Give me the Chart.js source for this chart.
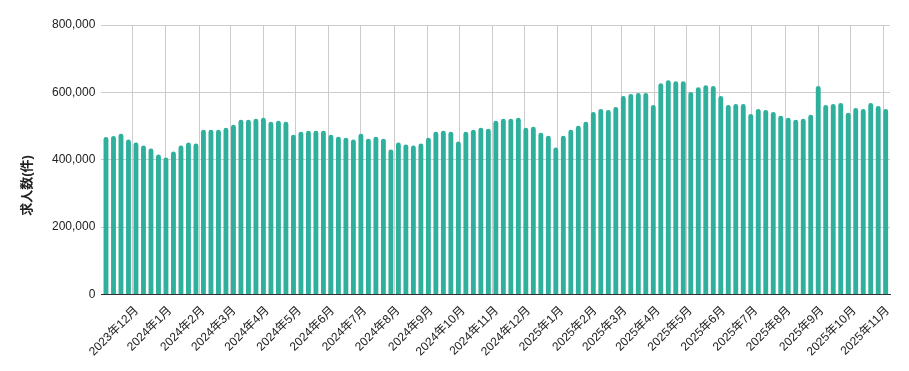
<!DOCTYPE html>
<html>
<head>
<meta charset="utf-8">
<script src="https://cdn.jsdelivr.net/npm/chart.js@4"></script>
<style>
  body { margin: 0; background: #fff; }
</style>
</head>
<body>
<canvas id="chart" width="909" height="371"></canvas>
<script>
// weekly data (week start dates)
var weeks = [
  '2023-11-06', '2023-11-13', '2023-11-20', '2023-11-27', '2023-12-04', '2023-12-11', '2023-12-18', '2023-12-25',
  '2024-01-01', '2024-01-08', '2024-01-15', '2024-01-22', '2024-01-29', '2024-02-05', '2024-02-12', '2024-02-19',
  '2024-02-26', '2024-03-04', '2024-03-11', '2024-03-18', '2024-03-25', '2024-04-01', '2024-04-08', '2024-04-15',
  '2024-04-22', '2024-04-29', '2024-05-06', '2024-05-13', '2024-05-20', '2024-05-27', '2024-06-03', '2024-06-10',
  '2024-06-17', '2024-06-24', '2024-07-01', '2024-07-08', '2024-07-15', '2024-07-22', '2024-07-29', '2024-08-05',
  '2024-08-12', '2024-08-19', '2024-08-26', '2024-09-02', '2024-09-09', '2024-09-16', '2024-09-23', '2024-09-30',
  '2024-10-07', '2024-10-14', '2024-10-21', '2024-10-28', '2024-11-04', '2024-11-11', '2024-11-18', '2024-11-25',
  '2024-12-02', '2024-12-09', '2024-12-16', '2024-12-23', '2024-12-30', '2025-01-06', '2025-01-13', '2025-01-20',
  '2025-01-27', '2025-02-03', '2025-02-10', '2025-02-17', '2025-02-24', '2025-03-03', '2025-03-10', '2025-03-17',
  '2025-03-24', '2025-03-31', '2025-04-07', '2025-04-14', '2025-04-21', '2025-04-28', '2025-05-05', '2025-05-12',
  '2025-05-19', '2025-05-26', '2025-06-02', '2025-06-09', '2025-06-16', '2025-06-23', '2025-06-30', '2025-07-07',
  '2025-07-14', '2025-07-21', '2025-07-28', '2025-08-04', '2025-08-11', '2025-08-18', '2025-08-25', '2025-09-01',
  '2025-09-08', '2025-09-15', '2025-09-22', '2025-09-29', '2025-10-06', '2025-10-13', '2025-10-20', '2025-10-27',
  '2025-11-03'
];

var jobs = [
  467600, 470600, 477400, 459800, 451000, 442100, 433300, 415700,
  406900, 424500, 442100, 451000, 448000, 489200, 489200, 489200,
  495100, 503900, 518600, 518600, 521500, 524500, 512700, 515600,
  512700, 474500, 483300, 486200, 486200, 486200, 474500, 468600,
  465700, 459800, 477400, 462700, 468600, 462700, 430400, 451000,
  445100, 442100, 448000, 465700, 483300, 486200, 483300, 453900,
  483300, 489200, 495100, 492100, 515600, 521500, 521500, 524500,
  495100, 498000, 480400, 471500, 436300, 471500, 489200, 500900,
  512700, 542100, 550900, 548000, 556800, 589100, 595000, 598000,
  598000, 562700, 627400, 636200, 633200, 633200, 600900, 615600,
  621500, 618600, 589100, 562700, 565600, 565600, 536200, 551000,
  548000, 542100, 530300, 524500, 518600, 521500, 533300, 618600,
  562700, 565600, 568500, 539200, 553900, 551000, 568500, 559700,
  551000
];

// month ticks
var tickDates = [
  '2023-12-01', '2024-01-01', '2024-02-01', '2024-03-01', '2024-04-01', '2024-05-01',
  '2024-06-01', '2024-07-01', '2024-08-01', '2024-09-01', '2024-10-01', '2024-11-01',
  '2024-12-01', '2025-01-01', '2025-02-01', '2025-03-01', '2025-04-01', '2025-05-01',
  '2025-06-01', '2025-07-01', '2025-08-01', '2025-09-01', '2025-10-01', '2025-11-01'
];
var tickLabels = [
  '2023年12月', '2024年1月', '2024年2月', '2024年3月', '2024年4月', '2024年5月',
  '2024年6月', '2024年7月', '2024年8月', '2024年9月', '2024年10月', '2024年11月',
  '2024年12月', '2025年1月', '2025年2月', '2025年3月', '2025年4月', '2025年5月',
  '2025年6月', '2025年7月', '2025年8月', '2025年9月', '2025年10月', '2025年11月'
];

var yTitle = '求人数(件)';

function dayNum(s) {
  var p = s.split('-');
  return Date.UTC(+p[0], +p[1] - 1, +p[2]) / 86400000;
}

var points = weeks.map(function (w, i) { return { x: dayNum(w), y: jobs[i] }; });
var tickDays = tickDates.map(dayNum);

Chart.defaults.font.family = '"Liberation Sans", Arial, "Noto Sans CJK JP", sans-serif';
Chart.defaults.font.size = 12;
Chart.defaults.color = '#222';

var yTitlePlugin = {
  id: 'yTitle',
  afterDraw: function (chart) {
    var c = chart.ctx;
    c.save();
    c.translate(27, chart.height / 2);
    c.rotate(-Math.PI / 2);
    c.font = 'bold 13px "Liberation Sans", Arial, "Noto Sans CJK JP", sans-serif';
    c.fillStyle = '#222';
    c.textAlign = 'center';
    c.textBaseline = 'middle';
    c.fillText(yTitle, 0, 0);
    c.restore();
  }
};

var ctx = document.getElementById('chart').getContext('2d');
var myChart = new Chart(ctx, {
  type: 'bar',
  data: {
    datasets: [{
      label: '求人数',
      data: points,
      backgroundColor: '#2eb09c',
      borderRadius: 2.5,
      categoryPercentage: 0.8,
      barPercentage: 0.81
    }]
  },
  options: {
    responsive: false,
    animation: false,
    layout: { padding: { left: 46, right: 19, top: 25, bottom: 3 } },
    plugins: {
      legend: { display: false },
      tooltip: { enabled: false }
    },
    scales: {
      x: {
        type: 'linear',
        offset: false,
        min: dayNum(weeks[0]) - 4.3,
        max: dayNum(weeks[weeks.length - 1]) + 4,
        afterBuildTicks: function (scale) {
          scale.ticks = tickDays.map(function (v) { return { value: v }; });
        },
        grid: { color: '#cccccc', drawTicks: false, offset: false },
        border: { color: '#333333' },
        ticks: {
          autoSkip: false,
          maxRotation: 45,
          minRotation: 45,
          padding: 9,
          labelOffset: 4,
          callback: function (v, i) { return tickLabels[i]; }
        }
      },
      y: {
        min: 0,
        max: 800000,
        grid: { color: '#cccccc', drawTicks: false },
        border: { display: false },
        ticks: {
          stepSize: 200000,
          padding: 6,
          callback: function (v) { return v.toLocaleString('en-US'); }
        }
      }
    }
  },
  plugins: [yTitlePlugin]
});
</script>
</body>
</html>
